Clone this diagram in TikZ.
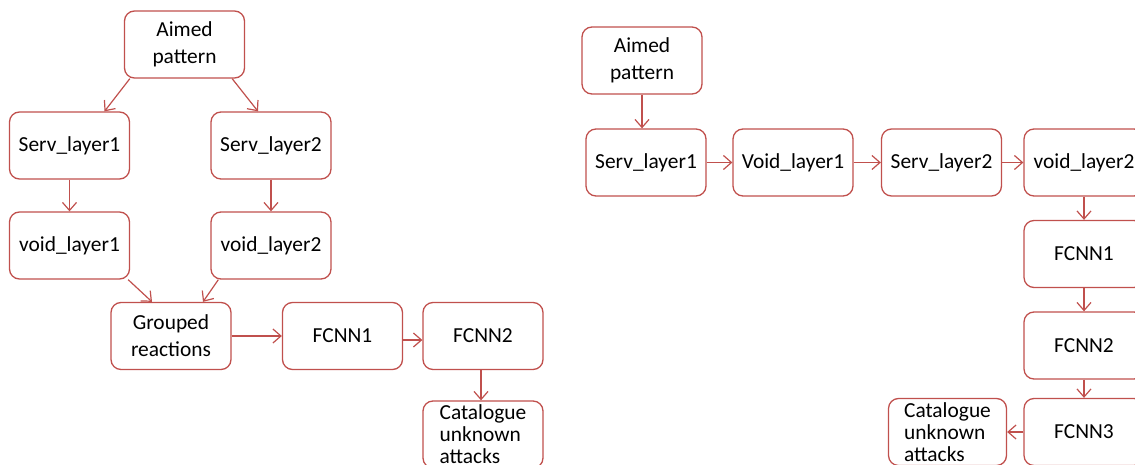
\documentclass[tikz,border=0pt]{standalone}
\usepackage{fontspec}
\setmainfont{Carlito}
\usetikzlibrary{arrows.meta}
\definecolor{boxred}{RGB}{192,80,77}
\tikzset{
  >={Straight Barb[length=4pt,width=7pt]},
}
\tikzstyle{block}=[draw=boxred,line width=0.65pt,rounded corners=5pt,minimum width=60pt,minimum height=33.5pt,align=center,inner sep=1pt,font=\fontsize{10.7}{13.4}\selectfont]
\tikzstyle{link}=[draw=boxred,line width=0.6pt,->]
\begin{document}
\begin{tikzpicture}[x=0.5pt,y=-0.5pt]
  \useasboundingbox (0,0) rectangle (1135,465);
  % parallel branches
  \node[block] (aimA) at (184.5,44.5) {Aimed\\pattern};
  \node[block] (servA1) at (69.5,145.5) {Serv\_layer1};
  \node[block] (servA2) at (271,145.5) {Serv\_layer2};
  \node[block] (voidA1) at (69.5,245.5) {void\_layer1};
  \node[block] (voidA2) at (271,245.5) {void\_layer2};
  \node[block] (grouped) at (171,336) {Grouped\\reactions};
  \node[block] (fcnnA1) at (342.5,336) {FCNN1};
  \node[block] (fcnnA2) at (483,336) {FCNN2};
  \node[block,font=\fontsize{10.7}{11}\selectfont,align=left] (catA) at (483,434.5) {Catalogue\\unknown\\attacks};
  \draw[link] ([xshift=3pt]aimA.south west) -- ([xshift=17.5pt]servA1.north);
  \draw[link] ([xshift=-6.5pt]aimA.south east) -- ([xshift=-6.5pt]servA2.north);
  \draw[link] (servA1) -- (voidA1);
  \draw[link] (servA2) -- (voidA2);
  \draw[link] ([xshift=-1pt]voidA1.south east) -- ([xshift=-9.5pt]grouped.north);
  \draw[link] ([xshift=4pt]voidA2.south west) -- ([xshift=16pt]grouped.north);
  \draw[link] (grouped) -- (fcnnA1);
  \draw[link] ([yshift=-2pt]fcnnA1.east) -- ([yshift=-2pt]fcnnA2.west);
  \draw[link] ([xshift=-1pt]fcnnA2.south) -- ([xshift=-1pt]catA.north);
  % serial chain
  \node[block] (aimB) at (642,60.5) {Aimed\\pattern};
  \node[block] (servB1) at (646,162.5) {Serv\_layer1};
  \node[block] (voidB1) at (793,162.5) {Void\_layer1};
  \node[block] (servB2) at (941.5,162.5) {Serv\_layer2};
  \node[block] (voidB2) at (1084,162.5) {void\_layer2};
  \node[block] (fcnnB1) at (1084,254) {FCNN1};
  \node[block] (fcnnB2) at (1084,345.5) {FCNN2};
  \node[block] (fcnnB3) at (1084,432) {FCNN3};
  \node[block,font=\fontsize{10.7}{11}\selectfont,align=left,minimum width=59pt] (catB) at (947.5,432) {Catalogue\\unknown\\attacks};
  \draw[link] (aimB.south) -- (aimB.south |- servB1.north);
  \draw[link] (servB1) -- (voidB1);
  \draw[link] (voidB1) -- (servB2);
  \draw[link] (servB2) -- (voidB2);
  \draw[link] (voidB2) -- (fcnnB1);
  \draw[link] (fcnnB1) -- (fcnnB2);
  \draw[link] (fcnnB2) -- (fcnnB3);
  \draw[link] (fcnnB3) -- (catB);
\end{tikzpicture}
\end{document}
